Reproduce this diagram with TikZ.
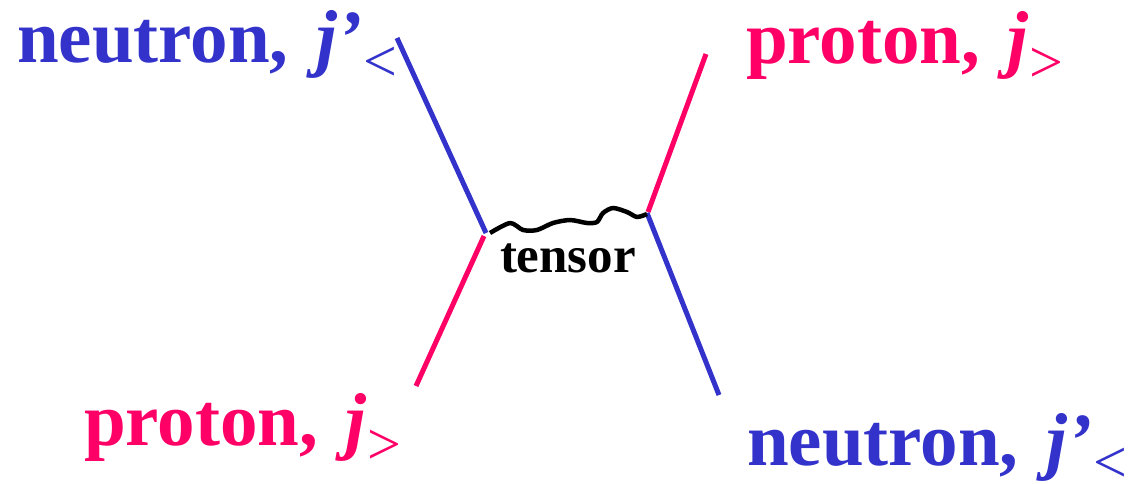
\documentclass[tikz,border=0pt]{standalone}
\usepackage{fontspec}
\setmainfont{Liberation Serif}
\definecolor{nblue}{HTML}{3333CC}
\definecolor{ppink}{HTML}{FF0066}
\newcommand{\biglab}[4]{{\fontsize{75}{80}\selectfont\bfseries #1,\hspace{9pt} \itshape #2}\hspace{1pt}\raisebox{#4}{\fontsize{60}{64}\selectfont #3}}
\begin{document}
\begin{tikzpicture}[x=1pt,y=-1pt,
  lab/.style={anchor=base west,inner sep=0pt,outer sep=0pt},
  fline/.style={line width=5pt},
  wave/.style={line width=4.5pt,black,line join=round}]
\useasboundingbox (0,0) rectangle (1137,484);
\coordinate (ulA) at (397,38);
\coordinate (ulB) at (486,233);
\coordinate (llA) at (484,236);
\coordinate (llB) at (416,386);
\coordinate (urA) at (706,54);
\coordinate (urB) at (648,212);
\coordinate (lrA) at (647,213);
\coordinate (lrB) at (719,395);
\draw[fline,nblue] (ulA) -- (ulB);
\draw[fline,ppink] (llA) -- (llB);
\draw[fline,ppink] (urA) -- (urB);
\draw[fline,nblue] (lrA) -- (lrB);
\coordinate (wA) at (490,233);
\coordinate (wB) at (647,214);
\draw[wave] plot[smooth,tension=0.45] coordinates {(490,233) (510,223) (523,230) (537,230) (553,223) (570,220) (587,223) (597,222) (603,213) (613,208) (627,212) (637,217) (647,214)};
\node[lab] (tens) at (500,272) {\fontsize{51}{56}\selectfont\bfseries tensor};
\node[lab,text=nblue] (n1) at (17,63) {\biglab{neutron}{j’}{<}{-19pt}};
\node[lab,text=ppink] (p1) at (746,64) {\biglab{proton}{j}{>}{-19pt}};
\node[lab,text=ppink] (p2) at (84,445) {\biglab{proton}{j}{>}{-19pt}};
\node[lab,text=nblue] (n2) at (747,465) {\biglab{neutron}{j’}{<}{-17pt}};
\end{tikzpicture}
\end{document}
